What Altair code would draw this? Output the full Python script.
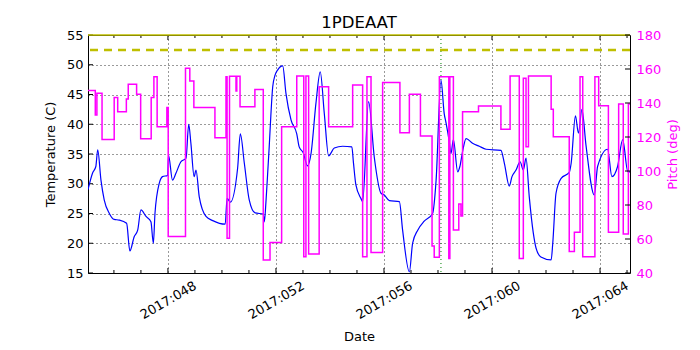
import altair as alt
import pandas as pd

# ---- data (day of year 2017, fractional) ----
temp_day = [45.04, 45.21, 45.33, 45.40, 45.52, 45.64, 45.83, 46.01, 46.20, 46.47,
            46.59, 46.75, 46.88, 47.00, 47.19, 47.37, 47.46, 47.52, 47.68, 47.80,
            47.99, 48.02, 48.17, 48.30, 48.48, 48.67, 48.77, 48.85, 48.97, 49.04,
            49.16, 49.41, 49.66, 50.12, 50.19, 50.31, 50.58, 50.68, 50.83, 51.01,
            51.23, 51.53, 51.57, 51.63, 51.69, 51.75, 51.81, 51.88, 51.97, 52.06,
            52.25, 52.37, 52.56, 52.77, 52.86, 53.01, 53.17, 53.30, 53.48, 53.64,
            53.79, 53.95, 54.16, 54.47, 54.81, 54.87, 54.96, 55.15, 55.21, 55.43,
            55.64, 55.89, 56.01, 56.20, 56.57, 56.69, 56.94, 57.06, 57.25, 57.49,
            57.80, 57.93, 58.11, 58.23, 58.30, 58.42, 58.48, 58.57, 58.73, 58.81,
            58.91, 59.04, 59.28, 59.53, 59.78, 60.33, 60.46, 60.64, 60.74, 60.89,
            61.04, 61.16, 61.26, 61.38, 61.53, 61.63, 61.81, 62.19, 62.25, 62.37,
            62.56, 62.86, 62.93, 63.09, 63.20, 63.33, 63.48, 63.79, 63.91, 64.28,
            64.44, 64.65, 64.84, 65.03, 65.11]
temp_val = [29.0, 31.8, 32.9, 35.7, 30.6, 27.3, 25.0, 24.0, 23.9, 23.35,
            18.7, 21.1, 22.2, 25.6, 24.5, 23.6, 20.0, 25.0, 30.1, 31.2,
            31.4, 34.8, 30.6, 31.8, 33.7, 34.3, 40.0, 36.8, 31.2, 32.3,
            27.8, 24.5, 23.8, 23.2, 27.55, 26.9, 32.6, 38.4, 33.4, 27.3,
            25.1, 24.9, 23.6, 27.0, 31.5, 36.2, 41.4, 46.3, 48.3, 49.1,
            49.8, 45.2, 40.7, 38.4, 36.2, 35.2, 33.0, 35.1, 43.5, 48.8,
            41.8, 34.7, 36.0, 36.3, 36.2, 33.5, 29.8, 27.5, 27.0, 43.8,
            34.5, 28.4, 28.1, 27.15, 27.0, 22.2, 15.2, 20.0, 22.2, 23.7,
            25.0, 30.6, 47.4, 41.8, 40.2, 37.0, 35.1, 37.4, 32.0, 32.9,
            35.4, 37.6, 36.8, 36.3, 35.8, 35.6, 33.4, 29.6, 31.2, 32.3,
            33.7, 32.3, 34.3, 27.8, 21.7, 19.2, 17.7, 17.2, 20.0, 28.4,
            30.9, 31.9, 33.4, 41.4, 38.5, 42.5, 36.5, 28.1, 32.9, 35.8,
            31.2, 32.9, 37.4, 32.0, 32.0]

pitch_day = [45.04, 45.31, 45.37, 45.56, 46.01, 46.14, 46.46, 46.53, 46.84, 46.99,
             47.38, 47.48, 47.60, 47.96, 48.01, 48.65, 48.81, 48.96, 49.74, 50.15,
             50.19, 50.28, 50.52, 50.55, 50.67, 51.22, 51.53, 51.78, 52.21, 52.77,
             53.03, 53.11, 53.21, 53.60, 53.95, 54.84, 55.21, 55.37, 55.52, 55.95,
             56.59, 56.94, 57.35, 57.78, 57.86, 58.05, 58.40, 58.44, 58.57, 58.77,
             58.85, 58.91, 59.50, 60.33, 60.67, 61.01, 61.16, 61.26, 61.35, 62.19,
             62.27, 62.86, 63.05, 63.26, 63.36, 63.81, 63.95, 64.31, 64.69, 64.86,
             65.05, 65.11]
pitch_val = [147.3, 133.0, 145.7, 118.6, 143.3, 134.9, 142.4, 151.0, 145.1, 119.0,
             143.3, 155.5, 126.1, 137.4, 61.4, 160.4, 152.9, 137.3, 119.6, 155.5,
             60.4, 155.7, 147.0, 155.7, 137.8, 148.0, 47.6, 58.0, 126.1, 155.9,
             49.6, 155.9, 51.2, 149.6, 126.1, 150.6, 49.6, 155.5, 52.0, 152.0,
             122.5, 145.1, 120.6, 55.9, 49.2, 155.5, 48.6, 155.5, 65.3, 80.6,
             73.5, 134.9, 138.2, 124.5, 155.9, 48.6, 154.5, 114.3, 155.9, 136.3,
             120.2, 52.6, 64.0, 155.5, 49.6, 155.5, 138.4, 64.0, 139.4, 62.9,
             139.4, 139.4]

limit_values = [52.5]
top_limit = [55.0]
marker_days = [58.11]
major_days = [48, 52, 56, 60, 64]
minor_days = [46, 47, 49, 50, 51, 53, 54, 55, 57, 58, 59, 61, 62, 63, 65]
temp_ticks = [15, 20, 25, 30, 35, 40, 45, 50, 55]
pitch_ticks = [40, 60, 80, 100, 120, 140, 160, 180]

W, H = 542, 238
FONT = "DejaVu Sans"

xscale = alt.Scale(domain=[45.04, 65.11], nice=False, zero=False)
tscale = alt.Scale(domain=[15, 55], nice=False, zero=False)
pscale = alt.Scale(domain=[40, 180], nice=False, zero=False)

xaxis = alt.Axis(values=major_days, labelExpr="'2017:0' + datum.value",
                 labelAngle=330, labelAlign="center", labelBaseline="middle",
                 labelPadding=27, tickSize=0, grid=True, gridDash=[1, 3],
                 gridColor="black", gridOpacity=1, gridWidth=0.8,
                 title="Date", titlePadding=9, domain=False, labelFlush=False)
taxis = alt.Axis(values=temp_ticks, tickSize=0, labelPadding=5, grid=True,
                 gridDash=[1, 3], gridColor="black", gridOpacity=1, gridWidth=0.8,
                 title="Temperature (C)", titlePadding=9, domain=False,
                 labelFlush=False)
paxis = alt.Axis(orient="right", values=pitch_ticks, tickSize=0, labelPadding=6,
                 grid=False, labelColor="#ff00ff", titleColor="#ff00ff",
                 title="Pitch (deg)", titleAngle=270, titlePadding=19,
                 domain=False, labelFlush=False)

X = alt.X("day:Q", scale=xscale, axis=xaxis)
YT = alt.Y("temp:Q", scale=tscale, axis=taxis)
YP = alt.Y("pitch:Q", scale=pscale, axis=paxis)

temp_df = pd.DataFrame({"day": temp_day, "temp": temp_val})
pitch_df = pd.DataFrame({"day": pitch_day, "pitch": pitch_val})

temp_line = alt.Chart(temp_df).mark_line(
    color="#0000ff", strokeWidth=1.2, interpolate="monotone", clip=True
).encode(x=X, y=YT)

limit_rule = alt.Chart(pd.DataFrame({"temp": limit_values})).mark_rule(
    color="#bfbf00", strokeWidth=2.5, strokeDash=[8, 6]
).encode(y=YT)

top_rule = alt.Chart(pd.DataFrame({"temp": top_limit})).mark_rule(
    color="#bfbf00", strokeWidth=1.5
).encode(y=YT)

marker_rule = alt.Chart(pd.DataFrame({"day": marker_days})).mark_rule(
    color="#008000", strokeWidth=1, strokeDash=[1, 3]
).encode(x=X)

minor_df = pd.DataFrame({"day": minor_days})
major_df = pd.DataFrame({"day": major_days})
tick_color = "black"
minor_bot = alt.Chart(minor_df).mark_rule(color=tick_color).encode(
    x=X, y=alt.value(H), y2=alt.value(H - 3))
minor_top = alt.Chart(minor_df).mark_rule(color=tick_color).encode(
    x=X, y=alt.value(0), y2=alt.value(3))
major_bot = alt.Chart(major_df).mark_rule(color=tick_color).encode(
    x=X, y=alt.value(H), y2=alt.value(H - 5))
major_top = alt.Chart(major_df).mark_rule(color=tick_color).encode(
    x=X, y=alt.value(0), y2=alt.value(5))
left_ticks = alt.Chart(pd.DataFrame({"temp": temp_ticks})).mark_rule(
    color=tick_color).encode(y=YT, x=alt.value(0), x2=alt.value(5))

temp_group = alt.layer(marker_rule, minor_bot, minor_top, major_bot, major_top,
                       left_ticks, temp_line, limit_rule, top_rule)

pitch_line = alt.Chart(pitch_df).mark_line(
    color="#ff00ff", strokeWidth=1.5, interpolate="step-after", clip=True
).encode(x=X, y=YP)
right_ticks = alt.Chart(pd.DataFrame({"pitch": pitch_ticks})).mark_rule(
    color=tick_color).encode(y=YP, x=alt.value(W), x2=alt.value(W - 5))

pitch_group = alt.layer(pitch_line, right_ticks)

chart = alt.layer(temp_group, pitch_group).resolve_scale(
    y="independent"
).properties(
    width=W, height=H,
    title=alt.Title("1PDEAAT", fontSize=16.5, font=FONT, fontWeight="normal",
                    offset=6, dy=8, color="black"),
    padding={"left": 80, "top": 27, "right": 62, "bottom": 76},
    autosize=alt.AutoSizeParams(type="none"),
).configure_view(
    stroke="black", strokeWidth=1
).configure_axis(
    labelFont=FONT, titleFont=FONT, labelFontSize=13, titleFontSize=13,
    titleFontWeight="normal", labelColor="black", titleColor="black"
)

chart.save("out.html", embed_options={"renderer": "svg", "actions": False})
